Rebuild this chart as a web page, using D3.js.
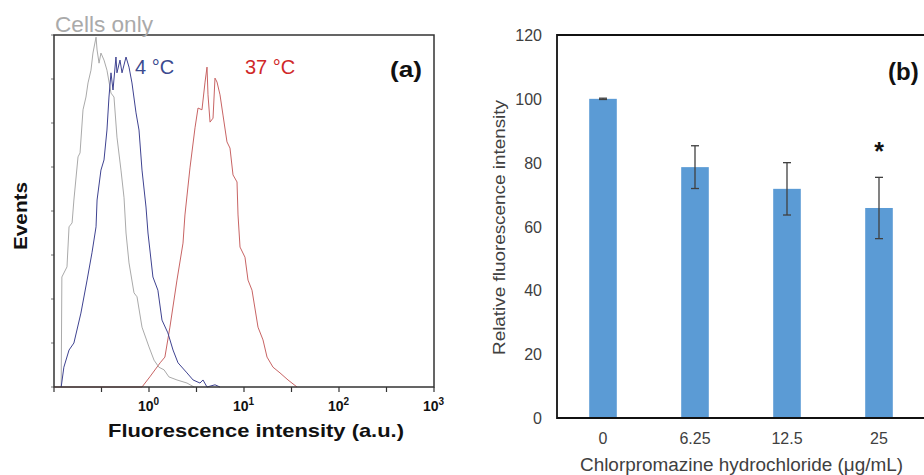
<!DOCTYPE html>
<html lang="en">
<head>
<meta charset="UTF-8">
<title>D3</title>
<script src="https://d3js.org/d3.v7.min.js"></script>
<style>
  body { margin: 0; background: #fff; }
  text { font-family: "Liberation Sans", Arial, sans-serif; }
</style>
</head>
<body>
<script>
// ---- panel (a): flow cytometry histograms  [intensity, events]
const cellsOnly = [
  [0.119, 0], [0.121, 250], [0.137, 273], [0.144, 364], [0.155, 373], [0.162, 425],
  [0.179, 523], [0.188, 532], [0.202, 630], [0.217, 659], [0.228, 691], [0.245, 720],
  [0.257, 759], [0.277, 795], [0.284, 766], [0.298, 736], [0.312, 759], [0.336, 743],
  [0.361, 720], [0.398, 668], [0.428, 659], [0.460, 568], [0.507, 493], [0.546, 430],
  [0.573, 350], [0.616, 282], [0.695, 214], [0.748, 205], [0.844, 136], [1.00, 91],
  [1.13, 61], [1.27, 45], [1.44, 39], [1.62, 23], [1.97, 16], [2.51, 9], [2.98, 0]
];
const cold4 = [
  [0.119, 0], [0.127, 45], [0.144, 84], [0.162, 100], [0.192, 168], [0.223, 243],
  [0.251, 305], [0.277, 364], [0.284, 425], [0.312, 493], [0.336, 516], [0.361, 584],
  [0.379, 659], [0.398, 714], [0.418, 675], [0.449, 750], [0.460, 714], [0.495, 743],
  [0.520, 714], [0.573, 750], [0.616, 727], [0.662, 691], [0.730, 623], [0.785, 584],
  [0.844, 493], [0.930, 409], [0.976, 350], [1.10, 250], [1.24, 220], [1.37, 152],
  [1.58, 123], [1.79, 84], [2.02, 55], [2.51, 32], [2.91, 16], [3.44, 9], [3.70, 16],
  [4.08, 0], [4.95, 5], [5.59, 0]
];
const warm37 = [
  [0.1, 0], [0.844, 0], [1.02, 23], [1.31, 55], [1.47, 68], [1.66, 136], [1.97, 243],
  [2.28, 327], [2.39, 391], [2.70, 498], [3.05, 589], [3.28, 634], [3.61, 630],
  [3.89, 693], [4.08, 727], [4.18, 664], [4.39, 602], [4.72, 611], [4.95, 702],
  [5.20, 693], [5.59, 664], [6.01, 618], [6.62, 557], [7.12, 543], [7.66, 482],
  [8.44, 466], [8.65, 391], [9.08, 318], [10.24, 295], [11.02, 243], [12.14, 220],
  [14.04, 136], [15.85, 107], [17.47, 68], [20.20, 45], [23.93, 32], [29.05, 16], [36.14, 0]
];
const decadeExps = [0, 1, 2, 3];

// ---- panel (b): bar chart
const doses = ['0', '6.25', '12.5', '25'];
const relFluor = [100, 78.6, 71.8, 65.8];
const relErr = [0.2, 6.7, 8.2, 9.6];
const yTicksB = [0, 20, 40, 60, 80, 100, 120];
const signif = [false, false, false, true];

const width = 924, height = 475;
const svg = d3.select('body').append('svg').attr('width', width).attr('height', height);

// ===== (a)
const ax = { l: 54, r: 434, t: 35, b: 387 };
const x = d3.scaleLog().domain([0.1, 1000]).range([ax.l, ax.r]);
const y = d3.scaleLinear().domain([0, 800]).range([ax.b, ax.t]);

const ga = svg.append('g');

// half-decade ticks at bottom
const xt = d3.range(-1, 3.01, 0.5).map(e => Math.pow(10, e));
ga.selectAll('line.xt').data(xt).join('line')
  .attr('x1', d => x(d)).attr('x2', d => x(d))
  .attr('y1', ax.b).attr('y2', ax.b + 5)
  .style('stroke', '#333').style('stroke-width', 1.2);

// small ticks on left
ga.selectAll('line.yt').data(d3.range(0, 801, 100)).join('line')
  .attr('x1', ax.l - 3).attr('x2', ax.l)
  .attr('y1', d => y(d)).attr('y2', d => y(d))
  .style('stroke', '#777').style('stroke-width', 1);

const line = d3.line().x(d => x(d[0])).y(d => y(d[1]));

const series = [
  { data: warm37, color: '#c86464' },
  { data: cellsOnly, color: '#aaaaaa' },
  { data: cold4, color: '#3f4391' }
];
ga.selectAll('path.hist').data(series).join('path')
  .attr('d', d => line(d.data))
  .style('fill', 'none')
  .style('stroke', d => d.color)
  .style('stroke-width', 1);

ga.append('rect')
  .attr('x', ax.l).attr('y', ax.t)
  .attr('width', ax.r - ax.l).attr('height', ax.b - ax.t)
  .style('fill', 'none').style('stroke', '#333').style('stroke-width', 1.5);

// decade labels
const dl = ga.selectAll('text.dec').data(decadeExps).join('text')
  .attr('x', d => x(Math.pow(10, d)) - 11).attr('y', 411)
  .style('font-weight', 'bold').style('font-size', '14px').style('fill', '#111');
dl.append('tspan').text('10');
dl.append('tspan').attr('dy', -6).style('font-size', '10px').text(d => d);

ga.append('text')
  .attr('x', 108).attr('y', 437)
  .attr('textLength', 296).attr('lengthAdjust', 'spacingAndGlyphs')
  .style('font-weight', 'bold').style('font-size', '19px').style('fill', '#111')
  .text('Fluorescence intensity (a.u.)');

ga.append('text')
  .attr('transform', 'translate(27,250) rotate(-90)')
  .attr('textLength', 68).attr('lengthAdjust', 'spacingAndGlyphs')
  .style('font-weight', 'bold').style('font-size', '18px').style('fill', '#111')
  .text('Events');

ga.append('text').attr('x', 55).attr('y', 32)
  .attr('textLength', 98).attr('lengthAdjust', 'spacingAndGlyphs')
  .style('font-size', '22px').style('fill', '#aaaaaa').text('Cells only');
ga.append('text').attr('x', 135).attr('y', 74)
  .style('font-size', '20px').style('fill', '#3b4a8f').text('4 \u00B0C');
ga.append('text').attr('x', 245).attr('y', 74)
  .style('font-size', '20px').style('fill', '#d02828').text('37 \u00B0C');
ga.append('text').attr('x', 390).attr('y', 77)
  .attr('textLength', 32).attr('lengthAdjust', 'spacingAndGlyphs')
  .style('font-size', '22px').style('font-weight', 'bold').style('fill', '#111').text('(a)');

// ===== (b)
const bx = { l: 557, r: 925, t: 35, b: 418 };
const xb = d3.scaleBand().domain(doses).range([bx.l, bx.r]).paddingInner(0.7).paddingOuter(0.35);
const yb = d3.scaleLinear().domain([0, 120]).range([bx.b, bx.t]);
const bars = doses.map((d, i) => ({ dose: d, v: relFluor[i], e: relErr[i], s: signif[i] }));

const gb = svg.append('g');

gb.selectAll('rect.bar').data(bars).join('rect')
  .attr('x', d => xb(d.dose)).attr('width', xb.bandwidth())
  .attr('y', d => yb(d.v)).attr('height', d => yb(0) - yb(d.v))
  .style('fill', '#5b9bd5');

const cx = d => xb(d.dose) + xb.bandwidth() / 2;
gb.selectAll('line.err').data(bars).join('line')
  .attr('x1', cx).attr('x2', cx)
  .attr('y1', d => yb(d.v + d.e)).attr('y2', d => yb(d.v - d.e))
  .style('stroke', '#404040').style('stroke-width', 1.3);
['top', 'bot'].forEach(k => {
  gb.selectAll('line.cap' + k).data(bars).join('line')
    .attr('x1', d => cx(d) - 4).attr('x2', d => cx(d) + 4)
    .attr('y1', d => yb(k === 'top' ? d.v + d.e : d.v - d.e))
    .attr('y2', d => yb(k === 'top' ? d.v + d.e : d.v - d.e))
    .style('stroke', '#404040').style('stroke-width', 1.3);
});

gb.selectAll('text.star').data(bars.filter(d => d.s)).join('text')
  .attr('x', cx).attr('y', d => yb(d.v + d.e) - 17)
  .attr('text-anchor', 'middle')
  .style('font-size', '25px').style('font-weight', 'bold').style('fill', '#111')
  .text('*');

gb.append('path')
  .attr('d', `M${bx.r},${bx.t}H${bx.l}V${bx.b}H${bx.r}`)
  .style('fill', 'none').style('stroke', '#111').style('stroke-width', 1.8);

gb.selectAll('text.yt').data(yTicksB).join('text')
  .attr('x', bx.l - 15).attr('y', d => yb(d) + 6)
  .attr('text-anchor', 'end')
  .style('font-size', '16px').style('fill', '#404040')
  .text(d => d);

gb.selectAll('text.xt').data(doses).join('text')
  .attr('x', d => xb(d) + xb.bandwidth() / 2).attr('y', 444)
  .attr('text-anchor', 'middle')
  .style('font-size', '16px').style('fill', '#404040')
  .text(d => d);

gb.append('text')
  .attr('x', 580).attr('y', 471)
  .attr('textLength', 323).attr('lengthAdjust', 'spacingAndGlyphs')
  .style('font-size', '18px').style('fill', '#404040')
  .text('Chlorpromazine hydrochloride (\u03BCg/mL)');

gb.append('text')
  .attr('transform', 'translate(505,355) rotate(-90)')
  .attr('textLength', 255).attr('lengthAdjust', 'spacingAndGlyphs')
  .style('font-size', '17px').style('fill', '#404040')
  .text('Relative fluorescence intensity');

gb.append('text').attr('x', 888).attr('y', 80)
  .style('font-size', '24px').style('font-weight', 'bold').style('fill', '#111').text('(b)');
</script>
</body>
</html>
